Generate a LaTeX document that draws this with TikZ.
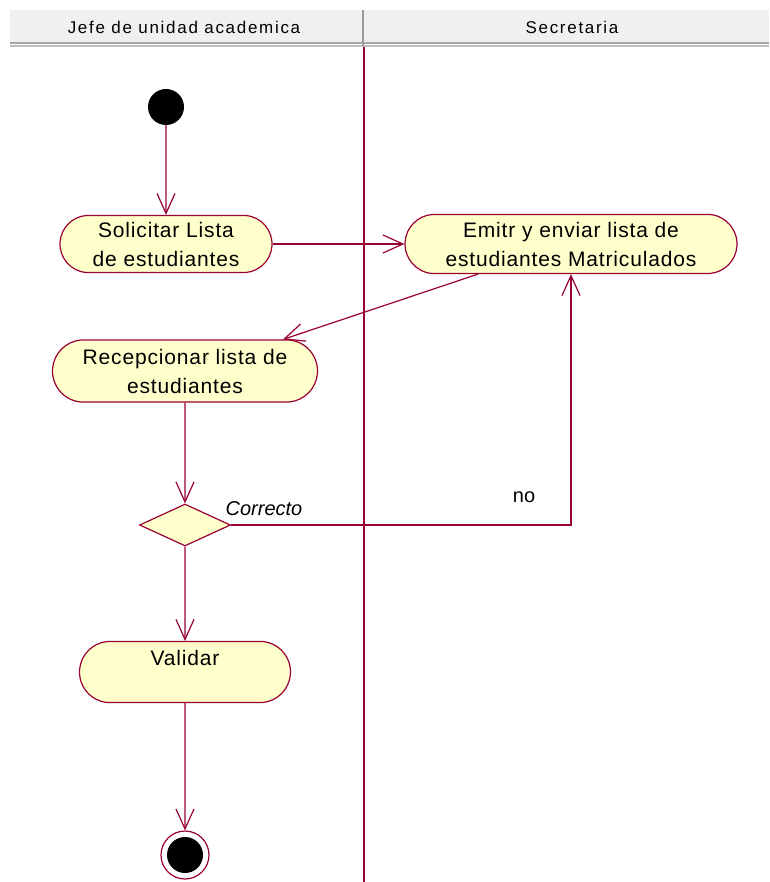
\documentclass[tikz,border=0pt]{standalone}
\usepackage{fontspec}
\setmainfont{Liberation Sans}
\usetikzlibrary{arrows.meta,shapes.geometric,shapes.misc,calc}
\definecolor{umlred}{RGB}{153,0,51}
\definecolor{actfill}{RGB}{255,255,204}
\definecolor{headgray}{RGB}{240,240,240}

\begin{document}
\begin{tikzpicture}[x=1pt,y=-1pt,
  act/.style={draw=umlred,fill=actfill,rounded rectangle,rounded rectangle arc length=170,
    line width=1.2pt,align=center,inner sep=0pt,text depth=0pt,
    font=\fontsize{21}{29}\selectfont\addfontfeature{LetterSpace=4}},
  flow/.style={draw=umlred,line width=1.2pt,-{Straight Barb[length=20pt,width=18pt]}},
  lane/.style={font=\fontsize{17}{18}\selectfont\addfontfeature{LetterSpace=10}}]
\useasboundingbox (0,0) rectangle (769,882);

% swimlane header
\fill[headgray] (10,10) rectangle (769,42);
\draw[gray!70,line width=1.5pt] (10,43) -- (769,43);
\draw[gray!50,line width=1.5pt] (10,46) -- (769,46);
\draw[gray!80,line width=1.5pt] (363,10) -- (363,46);
\node[lane] (jefe) at (184,27) {Jefe de unidad academica};
\node[lane] (secr) at (572,27) {Secretaria};
\draw[umlred,line width=1.2pt] (364,47) -- (364,882);

% activities
\node[circle,fill=black,minimum size=36pt,inner sep=0pt] (start) at (166,107) {};
\node[act,minimum width=212pt,minimum height=57pt] (sol) at (166,244) {Solicitar Lista\\de estudiantes};
\node[act,minimum width=332pt,minimum height=59pt] (emit) at (571,244) {Emitr y enviar lista de\\estudiantes Matriculados};
\node[act,minimum width=265pt,minimum height=62pt] (recep) at (185,371) {Recepcionar lista de\\estudiantes};
\node[diamond,draw=umlred,fill=actfill,line width=1.2pt,inner sep=0pt,aspect=2.17,
  minimum width=91pt,minimum height=42pt] (dec) at (185,525) {};
\node[act,minimum width=211pt,minimum height=61pt] (valid) at (185,672) {Validar\\\strut};
\node[circle,draw=umlred,fill=white,line width=1.2pt,minimum size=48pt,inner sep=0pt] (fin) at (185,855) {};
\node[circle,fill=black,minimum size=36pt,inner sep=0pt] (finin) at (fin.center) {};

% flows
\draw[flow] (start) -- (sol);
\draw[flow] (sol.east) -- (emit.west);
\draw[flow] ($(emit.south)+(-93,0)$) -- ($(recep.north)+(98,0)$);
\draw[flow] (recep) -- (dec);
\draw[flow] (dec.east) -| (emit.south);
\draw[flow] (dec) -- (valid);
\draw[flow] (valid) -- (fin);

% labels
\node[font=\fontsize{20}{24}\selectfont\itshape] (corr) at (264,509) {Correcto};
\node[font=\fontsize{20}{24}\selectfont] (no) at (524,497) {no};
\end{tikzpicture}
\end{document}
